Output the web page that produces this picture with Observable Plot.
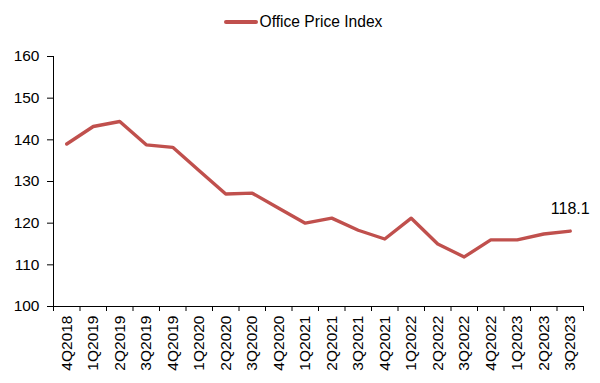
<!DOCTYPE html>
<html>
<head>
<meta charset="utf-8">
<script src="https://cdn.jsdelivr.net/npm/d3@7"></script>
<script src="https://cdn.jsdelivr.net/npm/@observablehq/plot@0.6"></script>
<style>
  body { margin: 0; background: #fff; font-family: Arial, "Liberation Sans", sans-serif; }
  #legend { height: 44px; display: flex; align-items: center; justify-content: center; font-size: 15.6px; color: #000; }
  #legend .swatch { width: 34px; height: 4px; background: #C0504D; border-radius: 2px; margin-right: 2px; margin-left: 6px; }
</style>
</head>
<body>
<div id="legend"><span class="swatch"></span><span>Office Price Index</span></div>
<div id="chart"></div>
<script>
// Quarterly office price index, 4Q2018 – 3Q2023
const quarters = [
  "4Q2018", "1Q2019", "2Q2019", "3Q2019", "4Q2019",
  "1Q2020", "2Q2020", "3Q2020", "4Q2020",
  "1Q2021", "2Q2021", "3Q2021", "4Q2021",
  "1Q2022", "2Q2022", "3Q2022", "4Q2022",
  "1Q2023", "2Q2023", "3Q2023"
];
const officePriceIndex = [
  139.0, 143.2, 144.4, 138.8, 138.2,
  132.6, 127.0, 127.2, 123.6,
  120.0, 121.2, 118.3, 116.2,
  121.2, 115.0, 111.9, 116.0,
  116.0, 117.4, 118.1
];
const yTicks = [100, 110, 120, 130, 140, 150, 160];

const lineColor = "#C0504D";

// each quarter sits in the middle of its slot; slot edges carry the tick marks
const data = quarters.map((q, i) => ({q, i, pos: i + 0.5, value: officePriceIndex[i]}));
const centers = data.map(d => d.pos);
const edges = d3.range(quarters.length + 1);
const latest = data[data.length - 1];

const chart = Plot.plot({
  width: 600,
  height: 339,
  marginLeft: 53,
  marginRight: 17,
  marginTop: 12,
  marginBottom: 77,
  style: {fontFamily: "Arial, 'Liberation Sans', sans-serif", fontSize: "15px", color: "#000", background: "#fff"},
  x: {type: "linear", domain: [0, quarters.length], axis: null},
  y: {domain: [100, 160], axis: null},
  marks: [
    Plot.frame({anchor: "left", stroke: "#000"}),
    Plot.frame({anchor: "bottom", stroke: "#000"}),
    Plot.axisY({ticks: yTicks, tickSize: 6, tickPadding: 8, label: null, fontSize: 15.5}),
    Plot.axisX({ticks: edges, tickSize: 5, tickFormat: () => "", label: null}),
    Plot.axisX({
      ticks: centers, tickSize: 0, tickPadding: 9, tickRotate: -90, label: null, fontSize: 15.5,
      tickFormat: v => quarters[Math.round(v - 0.5)]
    }),
    Plot.line(data, {x: "pos", y: "value", stroke: lineColor, strokeWidth: 3.4, strokeLinejoin: "round"}),
    Plot.text([latest], {x: "pos", y: "value", text: d => d.value.toFixed(1), dy: -22, fontSize: 16, fill: "#000"})
  ]
});
document.getElementById("chart").appendChild(chart);
</script>
</body>
</html>
